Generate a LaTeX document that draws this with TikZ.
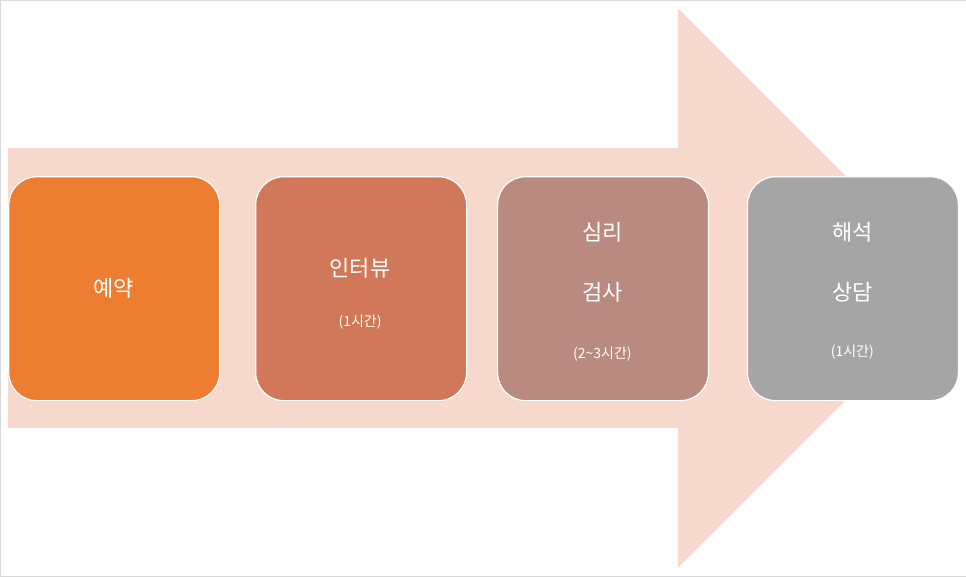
\documentclass[tikz,border=0pt]{standalone}
\usepackage{fontspec}
\newfontfamily\kr{Noto Sans CJK KR}
\definecolor{arr}{HTML}{F7D8CC}
\definecolor{c1}{HTML}{ED7D31}
\definecolor{c2}{HTML}{D1785A}
\definecolor{c3}{HTML}{B88A80}
\definecolor{c4}{HTML}{A5A5A5}
\tikzset{stepbox/.style={draw=white,line width=1.2pt,rounded corners=28pt,minimum width=211pt,minimum height=224pt,anchor=north west},
big/.style={text=white,font=\kr\fontsize{22}{26}\selectfont},
small/.style={text=white,font=\kr\fontsize{14}{17}\selectfont}}
\begin{document}
\begin{tikzpicture}[x=1pt,y=-1pt]
\path[use as bounding box,draw=black!15,fill=white] (0,0) rectangle (966,576);
\fill[arr] (8,148) -- (678,148) -- (678,8) -- (958,288) -- (678,568) -- (678,428) -- (8,428) -- cycle;
\node[stepbox,fill=c1] (b1) at (8,176) {};
\node[stepbox,fill=c2] (b2) at (255,176) {};
\node[stepbox,fill=c3] (b3) at (497,176) {};
\node[stepbox,fill=c4] (b4) at (747,176) {};
\node[big] (t1) at (113.5,288) {예약};
\node[big] (t2) at (360,268) {인터뷰};
\node[small] (s2) at (360,322) {(1시간)};
\node[big] (t3a) at (602.5,232) {심리};
\node[big] (t3b) at (602.5,292) {검사};
\node[small] (s3) at (602.5,354) {(2{\char`\~}3시간)};
\node[big] (t4a) at (852.5,232) {해석};
\node[big] (t4b) at (852.5,292) {상담};
\node[small] (s4) at (852.5,352) {(1시간)};
\end{tikzpicture}
\end{document}
